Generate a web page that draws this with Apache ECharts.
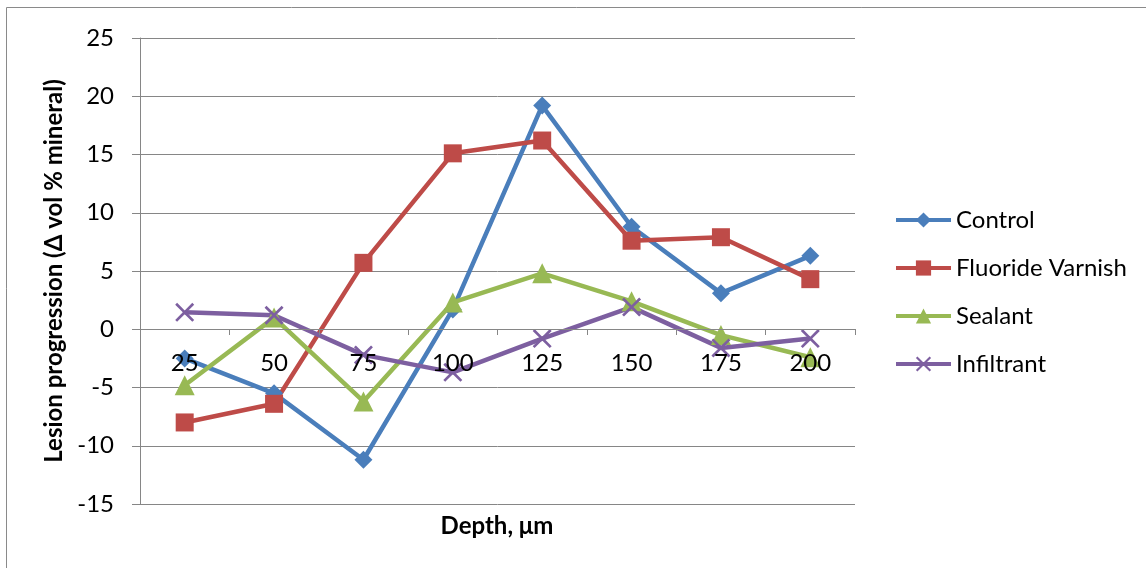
<!DOCTYPE html>
<html><head><meta charset="utf-8">
<script src="https://cdn.jsdelivr.net/npm/echarts@6/dist/echarts.min.js"></script>
<style>html,body{margin:0;padding:0;background:#fff}#c{width:1146px;height:568px}</style>
</head><body><div id="c"></div>
<script>
const categories = ['25','50','75','100','125','150','175','200'];
const control = [-2.5, -5.5, -11.2, 1.7, 19.2, 8.8, 3.1, 6.3];
const fluorideVarnish = [-8.0, -6.4, 5.7, 15.1, 16.2, 7.6, 7.9, 4.3];
const sealant = [-4.8, 1.0, -6.2, 2.3, 4.8, 2.4, -0.5, -2.4];
const infiltrant = [1.45, 1.2, -2.2, -3.7, -0.8, 1.9, -1.6, -0.8];
const yTicks = {min: -15, max: 25, interval: 5};

const font = 'Lato, "Open Sans", sans-serif';
const grey = '#868686';
const xPath = 'path://M0,1L1,0L5,4L9,0L10,1L6,5L10,9L9,10L5,6L1,10L0,9L4,5Z';

function mk(name, data, color, symbol, size) {
  return {
    name, type: 'line', data, symbol, symbolSize: size,
    lineStyle: {color, width: 4.5}, itemStyle: {color},
    emphasis: {disabled: true}, animation: false
  };
}

const chart = echarts.init(document.getElementById('c'));
chart.setOption({
  animation: false,
  grid: {left: 140, top: 38, right: 291, bottom: 64},
  legend: {
    orient: 'vertical', left: 889, top: 203,
    itemWidth: 55, itemHeight: 19, itemGap: 24,
    lineStyle: {width: 4},
    textStyle: {fontFamily: font, fontSize: 24, lineHeight: 24, color: '#000'}
  },
  xAxis: {
    type: 'category', data: categories, boundaryGap: true, offset: -175, z: 5,
    axisLine: {onZero: false, lineStyle: {color: grey, width: 1}},
    axisTick: {show: true, length: 6, inside: false, lineStyle: {color: grey}},
    axisLabel: {fontFamily: font, fontSize: 24, color: '#000', margin: 22}
  },
  yAxis: {
    type: 'value', min: yTicks.min, max: yTicks.max, interval: yTicks.interval,
    name: 'Lesion progression (Δ vol % mineral)', nameLocation: 'middle', nameGap: 70,
    nameTextStyle: {fontFamily: font, fontSize: 24, fontWeight: 'bold', color: '#000'},
    axisLine: {show: true, lineStyle: {color: grey, width: 1}},
    axisTick: {show: true, length: 8, lineStyle: {color: grey}},
    splitLine: {lineStyle: {color: grey, width: 1}},
    axisLabel: {fontFamily: font, fontSize: 24, color: '#000', margin: 26}
  },
  graphic: [
    {type: 'rect', shape: {x: 6.5, y: 7.5, width: 1300, height: 700}, style: {fill: 'none', stroke: '#8a8a8a', lineWidth: 1}, silent: true},
    {type: 'text', x: 497, y: 526, style: {text: 'Depth, μm', fontFamily: font, fontSize: 24, fontWeight: 'bold', fill: '#000', align: 'center', verticalAlign: 'middle'}}
  ],
  series: [
    mk('Control', control, '#4A7EBB', 'diamond', 18),
    mk('Fluoride Varnish', fluorideVarnish, '#BE4B48', 'rect', 18),
    mk('Sealant', sealant, '#98B954', 'triangle', 20),
    mk('Infiltrant', infiltrant, '#7D5FA0', xPath, 19)
  ]
});
</script></body></html>
